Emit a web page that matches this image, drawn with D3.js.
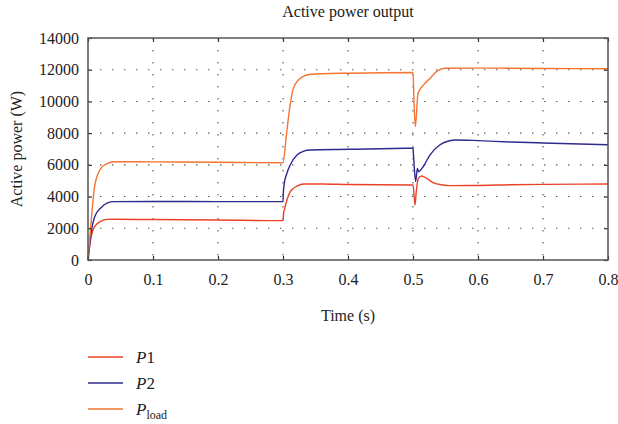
<!DOCTYPE html>
<html>
<head>
<meta charset="utf-8">
<script src="https://cdn.jsdelivr.net/npm/d3@7"></script>
<style>
  body { margin: 0; background: #fff; }
  text { font-family: "Liberation Serif", "DejaVu Serif", serif; fill: #222; }
</style>
</head>
<body>
<div id="chart"></div>
<script>
// time samples (s) and active power (W)
var p1Time  = [0, 0.005, 0.01, 0.02, 0.03, 0.04, 0.1, 0.2, 0.2995,
               0.3, 0.301, 0.302, 0.306, 0.311, 0.3215, 0.332, 0.36, 0.4, 0.4995,
               0.5, 0.501, 0.5031, 0.505, 0.5082, 0.5133, 0.521, 0.531, 0.546, 0.556, 0.6, 0.65, 0.7, 0.8];
var p1Power = [0, 1500, 2100, 2450, 2560, 2570, 2550, 2520, 2480,
               2480, 3000, 3150, 3780, 4300, 4660, 4790, 4790, 4760, 4730,
               4730, 4400, 3470, 4300, 5150, 5300, 5150, 4880, 4730, 4690, 4700, 4750, 4770, 4790];

var p2Time  = [0, 0.005, 0.01, 0.02, 0.03, 0.04, 0.1, 0.2, 0.2995,
               0.3, 0.3005, 0.302, 0.306, 0.311, 0.3215, 0.332, 0.342, 0.4, 0.4995,
               0.5, 0.5005, 0.502, 0.5041, 0.5067, 0.5087, 0.516, 0.526, 0.541, 0.556, 0.566, 0.6, 0.65, 0.7, 0.8];
var p2Power = [0, 1800, 2700, 3300, 3600, 3680, 3690, 3680, 3680,
               3680, 4200, 4830, 5470, 5990, 6620, 6870, 6940, 6980, 7060,
               7080, 6800, 5800, 4940, 5780, 5570, 5910, 6620, 7250, 7520, 7570, 7530, 7440, 7380, 7270];

var pLoadTime  = [0, 0.005, 0.01, 0.015, 0.02, 0.03, 0.04, 0.05, 0.1, 0.2, 0.2995,
                  0.3, 0.305, 0.31, 0.315, 0.32, 0.33, 0.34, 0.36, 0.4, 0.4995,
                  0.5, 0.5015, 0.5036, 0.5077, 0.516, 0.526, 0.536, 0.549, 0.6, 0.7, 0.8];
var pLoadPower = [0, 2500, 4600, 5400, 5800, 6100, 6200, 6200, 6190, 6160, 6130,
                  6130, 7800, 9500, 10700, 11150, 11550, 11700, 11750, 11780, 11820,
                  11820, 10000, 8410, 10510, 11030, 11450, 11880, 12090, 12100, 12080, 12060];

var seriesNames  = ["P1", "P2", "Pload"];
var seriesColors = ["#ea4228", "#2d2a8e", "#f47432"];

var xTicks = [0, 0.1, 0.2, 0.3, 0.4, 0.5, 0.6, 0.7, 0.8];
var yTicks = [0, 2000, 4000, 6000, 8000, 10000, 12000, 14000];

var W = 618, H = 424;
var margin = {top: 38, right: 10, bottom: 164, left: 88};
var iw = W - margin.left - margin.right,
    ih = H - margin.top - margin.bottom;

var svg = d3.select("#chart").append("svg")
    .attr("width", W)
    .attr("height", H);

var g = svg.append("g")
    .attr("transform", "translate(" + margin.left + "," + margin.top + ")");

var x = d3.scaleLinear().domain([0, 0.8]).range([0, iw]);
var y = d3.scaleLinear().domain([0, 14000]).range([ih, 0]);

// dotted grid
g.append("g").selectAll("line").data(xTicks.slice(1, -1)).enter().append("line")
    .attr("x1", function(d) { return x(d); }).attr("x2", function(d) { return x(d); })
    .attr("y1", 0).attr("y2", ih)
    .attr("stroke", "#555").attr("stroke-width", 1.1).attr("stroke-dasharray", "1.4,10.6");
g.append("g").selectAll("line").data(yTicks.slice(1, -1)).enter().append("line")
    .attr("y1", function(d) { return y(d); }).attr("y2", function(d) { return y(d); })
    .attr("x1", 0).attr("x2", iw)
    .attr("stroke", "#555").attr("stroke-width", 1.1).attr("stroke-dasharray", "1.4,10.6");

// the lines
var allSeries = [
    {t: p1Time, v: p1Power},
    {t: p2Time, v: p2Power},
    {t: pLoadTime, v: pLoadPower}
];
var line = d3.line()
    .x(function(d) { return x(d[0]); })
    .y(function(d) { return y(d[1]); })
    .curve(d3.curveMonotoneX);

[0, 1, 2].forEach(function(i) {
    var s = allSeries[i];
    g.append("path")
        .datum(d3.zip(s.t, s.v))
        .attr("fill", "none")
        .attr("stroke", seriesColors[i])
        .attr("stroke-width", 1.4)
        .attr("d", line);
});

// axes with inward ticks, box style
g.append("g").attr("transform", "translate(0," + ih + ")")
    .call(d3.axisBottom(x).tickValues(xTicks).tickSizeInner(-4).tickSizeOuter(0).tickPadding(14)
        .tickFormat(function(d) { return d === 0 ? "0" : d3.format(".1f")(d); }));
g.append("g")
    .call(d3.axisLeft(y).tickValues(yTicks).tickSizeInner(-4).tickSizeOuter(0).tickPadding(9)
        .tickFormat(d3.format("d")));
g.append("g").attr("transform", "translate(" + iw + ",0)")
    .call(d3.axisRight(y).tickValues(yTicks).tickSizeInner(-4).tickSizeOuter(0).tickFormat(""));
g.append("g")
    .call(d3.axisTop(x).tickValues(xTicks).tickSizeInner(-4).tickSizeOuter(0).tickFormat(""));

g.selectAll(".domain").remove();
g.selectAll(".tick line").attr("stroke", "#333").attr("stroke-width", 1.2);
g.selectAll(".tick text").style("font-family", "Liberation Serif, serif").style("font-size", "16px").attr("fill", "#222");

g.append("rect")
    .attr("width", iw).attr("height", ih)
    .attr("fill", "none").attr("stroke", "#555").attr("stroke-width", 1.5);

// titles
svg.append("text")
    .attr("x", margin.left + iw / 2).attr("y", 17)
    .attr("text-anchor", "middle").style("font-size", "16px")
    .text("Active power output");
svg.append("text")
    .attr("x", margin.left + iw / 2).attr("y", 321)
    .attr("text-anchor", "middle").style("font-size", "16px")
    .text("Time (s)");
svg.append("text")
    .attr("transform", "translate(22," + (margin.top + ih / 2) + ") rotate(-90)")
    .attr("text-anchor", "middle").style("font-size", "16px")
    .text("Active power (W)");

// legend
var legend = svg.append("g").attr("transform", "translate(88,357)");
seriesNames.forEach(function(name, i) {
    var row = legend.append("g").attr("transform", "translate(0," + (i * 26) + ")");
    row.append("line")
        .attr("x1", 0).attr("x2", 35).attr("y1", 0).attr("y2", 0)
        .attr("stroke", seriesColors[i]).attr("stroke-width", 1.4);
    var txt = row.append("text").attr("x", 48).attr("y", 6).style("font-size", "17px");
    txt.append("tspan").style("font-style", "italic").text("P");
    if (name === "Pload") {
        txt.append("tspan").attr("dy", 4).style("font-size", "12px").text("load");
    } else {
        txt.append("tspan").text(name.slice(1));
    }
});
</script>
</body>
</html>
